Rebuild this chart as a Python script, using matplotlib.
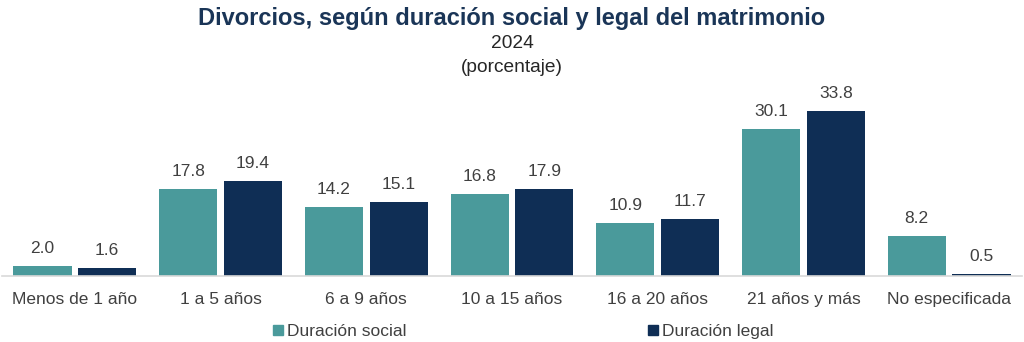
import matplotlib.pyplot as plt
import numpy as np
from matplotlib.lines import Line2D

plt.rcParams['font.family'] = ['Liberation Sans', 'DejaVu Sans']

categories = ["Menos de 1 año", "1 a 5 años", "6 a 9 años", "10 a 15 años",
              "16 a 20 años", "21 años y más", "No especificada"]
social = [2.0, 17.8, 14.2, 16.8, 10.9, 30.1, 8.2]
legal = [1.6, 19.4, 15.1, 17.9, 11.7, 33.8, 0.5]
series_names = ["Duración social", "Duración legal"]

teal = "#4a9a9b"
navy = "#0f2e55"
text_gray = "#404040"

fig = plt.figure(figsize=(10.24, 3.42), dpi=100)
ax = fig.add_axes([0.002, 0.193, 0.996, 0.558])

x = np.arange(len(categories))
w = 0.4
off = 0.222
b1 = ax.bar(x - off, social, w, color=teal)
b2 = ax.bar(x + off, legal, w, color=navy)

for bars, vals in ((b1, social), (b2, legal)):
    for rect, v in zip(bars, vals):
        ax.annotate(f"{v:.1f}", (rect.get_x() + rect.get_width() / 2, v),
                    xytext=(0, 12.5), textcoords="offset points",
                    ha="center", va="center", fontsize=12.5, color=text_gray)

ax.set_xlim(-0.5, len(categories) - 0.5)
ax.set_ylim(0, 39.1)
ax.set_xticks(x)
ax.set_xticklabels(categories, fontsize=12.5, color=text_gray)
ax.tick_params(axis="x", length=0, pad=11.5)
ax.set_yticks([])
for s in ("top", "right", "left"):
    ax.spines[s].set_visible(False)
ax.spines["bottom"].set_color("#d9d9d9")
ax.spines["bottom"].set_linewidth(1.2)

fig.text(0.5, 0.945, "Divorcios, según duración social y legal del matrimonio",
         ha="center", va="center", fontsize=17, fontweight="bold", color="#1a3557")
fig.text(0.5, 0.874, "2024", ha="center", va="center", fontsize=13.8, color="#262626")
fig.text(0.5, 0.802, "(porcentaje)", ha="center", va="center", fontsize=13.8, color="#262626")

handles = [Line2D([], [], marker="s", linestyle="", color=c, markersize=7)
           for c in (teal, navy)]
fig.legend(handles, series_names, loc="center", bbox_to_anchor=(0.51, 0.03), ncol=2,
           frameon=False, fontsize=12.5, labelcolor=text_gray, columnspacing=13.8,
           handletextpad=0.1, handlelength=0.8)

fig.savefig("out.png", dpi=100, facecolor="white")
